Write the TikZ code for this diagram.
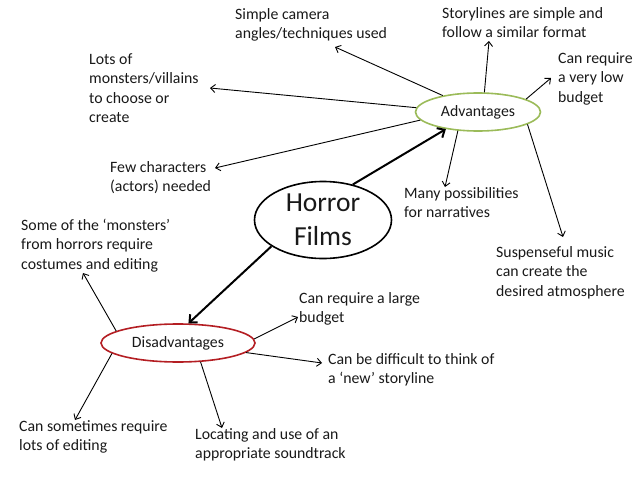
\documentclass[tikz,border=0pt]{standalone}
\usepackage{fontspec}
\setmainfont{Carlito}
\usetikzlibrary{shapes.geometric,arrows.meta}
\definecolor{advgreen}{RGB}{155,187,89}
\definecolor{disred}{RGB}{180,30,35}
\definecolor{txt}{RGB}{25,25,25}
\begin{document}
\begin{tikzpicture}[x=1pt,y=-1pt,
  lbl/.style={anchor=base west,inner sep=0,align=left,text=txt,font=\fontsize{15.8}{19.5}\selectfont},
  oval/.style={ellipse,draw,line width=1.6pt,inner sep=0,text=txt},
  thinarrow/.style={line width=0.9pt,-{Straight Barb[length=4.5pt,width=8pt]}},
  thickarrow/.style={line width=2pt,-{Straight Barb[length=6pt,width=11pt]}}]
\useasboundingbox (0,0) rectangle (638,479);

% central and branch ellipses
\node[oval,minimum width=137,minimum height=77,align=center,
      font=\fontsize{27.5}{33.5}\selectfont] (horror) at (323,220) {Horror\\Films};
\node[oval,draw=advgreen,minimum width=125,minimum height=38,
      font=\fontsize{15.8}{19.5}\selectfont] (adv) at (478,112) {Advantages};
\node[oval,draw=disred,minimum width=154,minimum height=38,
      font=\fontsize{15.8}{19.5}\selectfont] (dis) at (178,343) {Disadvantages};

% advantage texts (positioned at the baseline of their last line)
\node[lbl] (cam) at (235,38.5) {Simple camera\\angles/techniques used};
\node[lbl] (story) at (442,37.5) {Storylines are simple and\\follow a similar format};
\node[lbl] (low) at (558,102) {Can require\\a very low\\budget};
\node[lbl] (lots) at (89,122.5) {Lots of\\monsters/villains\\to choose or\\create};
\node[lbl] (few) at (110,191.5) {Few characters\\(actors) needed};
\node[lbl] (many) at (404,217.5) {Many possibilities\\for narratives};
\node[lbl] (susp) at (496,296) {Suspenseful music\\can create the\\desired atmosphere};

% disadvantage texts
\node[lbl] (some) at (21,269) {Some of the ‘monsters’\\from horrors require\\costumes and editing};
\node[lbl] (large) at (299,322.5) {Can require a large\\budget};
\node[lbl] (diff) at (328,383.5) {Can be difficult to think of\\a ‘new’ storyline};
\node[lbl] (somet) at (19,450.5) {Can sometimes require\\lots of editing};
\node[lbl] (loc) at (195,458.5) {Locating and use of an\\appropriate soundtrack};

% arrow tips
\coordinate (tcam) at (335,47);
\coordinate (tstory) at (489,41);
\coordinate (tlow) at (551,78);
\coordinate (tlots) at (210,88);
\coordinate (tfew) at (215,168);
\coordinate (tmany) at (445,187);
\coordinate (tsusp) at (563,237);
\coordinate (tsome) at (83,273);
\coordinate (tlarge) at (298,317);
\coordinate (tdiff) at (322,363);
\coordinate (tsomet) at (75,420);
\coordinate (tloc) at (222,428);

% thick arrows
\draw[thickarrow] (horror.50) -- (adv.208);
\draw[thickarrow] (horror.207) -- (dis.62);

% advantages connectors
\draw[thinarrow] (adv.155) -- (tcam);
\draw[thinarrow] (adv.72) -- (tstory);
\draw[thinarrow] (adv.15) -- (tlow);
\draw[thinarrow] (adv.176) -- (tlots);
\draw[thinarrow] (adv.188) -- (tfew);
\draw[thinarrow] (adv.223) -- (tmany);
\draw[thinarrow] (adv.-14) -- (tsusp);

% disadvantages connectors
\draw[thinarrow] (dis.169) -- (tsome);
\draw[thinarrow] (dis.3) -- (tlarge);
\draw[thinarrow] (dis.-8) -- (tdiff);
\draw[thinarrow] (dis.189) -- (tsomet);
\draw[thinarrow] (dis.-40) -- (tloc);
\end{tikzpicture}
\end{document}
